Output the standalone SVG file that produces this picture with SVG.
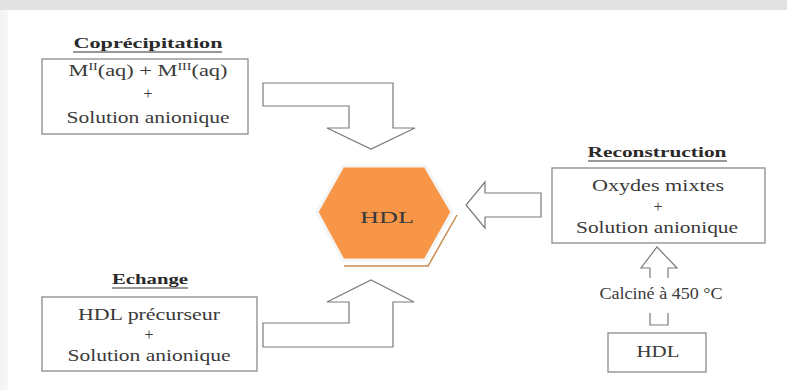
<svg xmlns="http://www.w3.org/2000/svg" width="787" height="390" viewBox="0 0 787 390">
<defs>
<linearGradient id="topg" x1="0" y1="0" x2="0" y2="1"><stop offset="0" stop-color="#e2e2e2"/><stop offset="1" stop-color="#f2f2f2"/></linearGradient>
<linearGradient id="leftg" x1="0" y1="0" x2="1" y2="0"><stop offset="0" stop-color="#f2f2f2"/><stop offset="1" stop-color="#f8f8f8"/></linearGradient>
</defs>
<style>
.box{fill:#fff;stroke:#8a8a8a;stroke-width:1.3}
.arr{fill:#fff;stroke:#7a7a7a;stroke-width:1.2;stroke-linejoin:miter}
.t{font-family:'Liberation Serif','DejaVu Serif',serif;font-size:16px;fill:#3a3a3a;text-anchor:middle}
.title{font-family:'Liberation Serif','DejaVu Serif',serif;font-size:15px;font-weight:bold;fill:#2a2a2a;text-anchor:middle}
.ul{stroke:#333;stroke-width:1.2}
</style>
<rect x="0" y="0" width="787" height="390" fill="url(#topg)"/>
<rect x="0" y="10" width="8" height="380" fill="url(#leftg)"/>
<rect x="8" y="10" width="779" height="380" fill="#fff"/>

<g id="connectors">
<path class="arr" d="M263,83 H393 V128 H415 L371,149 L327,128 H349 V106 H263 Z"/>
<path class="arr" d="M263,347 H393 V302 H414 L371,280 L327,302 H349 V323 H263 Z"/>
<path class="arr" d="M541,193 V217 H485 V228 L466,205 L485,182 V193 Z"/>
<path class="arr" d="M650,278 V268 H641 L657,247 L677,268 H668 V278"/>
<path class="arr" d="M650,313 V325 H668 V313" fill="none"/>
</g>

<g id="coprecipitation">
<text class="title" x="148" y="48" textLength="149" lengthAdjust="spacingAndGlyphs">Coprécipitation</text>
<line class="ul" x1="73" y1="52" x2="222" y2="52"/>
<rect class="box" x="42" y="59" width="206" height="75"/>
<text class="t" x="148" y="76" textLength="159" lengthAdjust="spacingAndGlyphs">M<tspan font-size="10" dy="-6">II</tspan><tspan dy="6">(aq) + M</tspan><tspan font-size="10" dy="-6">III</tspan><tspan dy="6">(aq)</tspan></text>
<text class="t" x="148" y="99">+</text>
<text class="t" x="148" y="123" textLength="163" lengthAdjust="spacingAndGlyphs">Solution anionique</text>
</g>

<g id="hdl-center">
<polyline points="457,215 428,266 344,266" fill="none" stroke="#c98a50" stroke-width="1.5"/>
<polygon points="317,212 343,166 425,166 452,212 425,260 343,260" fill="#f79646" stroke="#f4f4f4" stroke-width="3"/>
<text class="t" x="387" y="223" font-size="18" fill="#2a2a2a" textLength="54" lengthAdjust="spacingAndGlyphs">HDL</text>
</g>

<g id="reconstruction">
<text class="title" x="657" y="157" textLength="139" lengthAdjust="spacingAndGlyphs">Reconstruction</text>
<line class="ul" x1="588" y1="161" x2="727" y2="161"/>
<rect class="box" x="552" y="168" width="213" height="75"/>
<text class="t" x="658" y="191" textLength="132" lengthAdjust="spacingAndGlyphs">Oxydes mixtes</text>
<text class="t" x="658" y="212">+</text>
<text class="t" x="657" y="233" textLength="162" lengthAdjust="spacingAndGlyphs">Solution anionique</text>
</g>

<g id="calcine">
<text class="t" x="661" y="299" font-size="13" textLength="123" lengthAdjust="spacingAndGlyphs">Calciné à 450 °C</text>
</g>

<g id="hdl-small">
<rect class="box" x="608" y="333" width="98" height="39"/>
<text class="t" x="658" y="357" textLength="43" lengthAdjust="spacingAndGlyphs">HDL</text>
</g>

<g id="echange">
<text class="title" x="150" y="284" textLength="76" lengthAdjust="spacingAndGlyphs">Echange</text>
<line class="ul" x1="112" y1="288" x2="188" y2="288"/>
<rect class="box" x="42" y="297" width="215" height="74"/>
<text class="t" x="149" y="320" textLength="142" lengthAdjust="spacingAndGlyphs">HDL précurseur</text>
<text class="t" x="149" y="340">+</text>
<text class="t" x="149" y="361" textLength="163" lengthAdjust="spacingAndGlyphs">Solution anionique</text>
</g>
</svg>
